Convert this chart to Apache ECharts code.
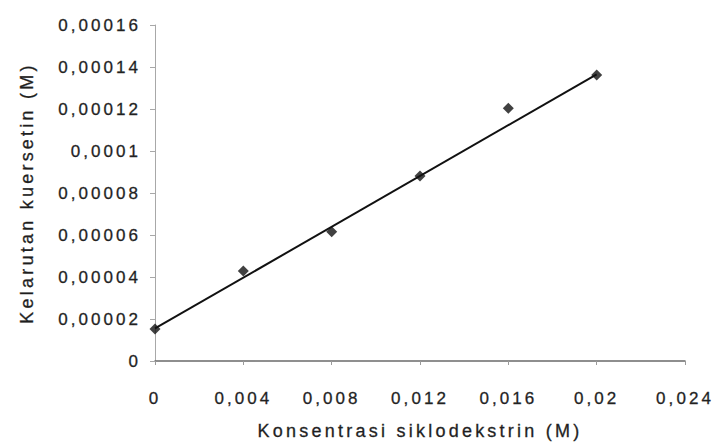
<!DOCTYPE html>
<html>
<head>
<meta charset="utf-8">
<style>
  html, body { margin: 0; padding: 0; background: #fff; }
  #chart { width: 716px; height: 447px; }
  #chart svg text { letter-spacing: 0.18em !important; stroke: #2a2a2a; stroke-width: 0.3px; }
</style>
<script src="https://cdn.jsdelivr.net/npm/echarts@6/dist/echarts.min.js"></script>
</head>
<body>
<div id="chart"></div>
<script>
// Data
var concentrations = [0, 0.004, 0.008, 0.012, 0.016, 0.02];
var solubility = [0.0000152, 0.0000429, 0.0000616, 0.0000881, 0.0001203, 0.0001362];
// Trend line end points
var trendX = [0, 0.02];
var trendY = [0.0000155, 0.0001365];
// Tick labels as printed (Indonesian decimal comma)
var xTickLabels = ['0', '0,004', '0,008', '0,012', '0,016', '0,02', '0,024'];
var yTickLabels = ['0', '0,00002', '0,00004', '0,00006', '0,00008', '0,0001', '0,00012', '0,00014', '0,00016'];
var xTitle = 'Konsentrasi siklodekstrin (M)';
var yTitle = 'Kelarutan kuersetin (M)';

var pointData = concentrations.map(function (c, i) { return [c, solubility[i]]; });
var trendData = trendX.map(function (c, i) { return [c, trendY[i]]; });

var chart = echarts.init(document.getElementById('chart'), null, { renderer: 'svg' });
var textColor = '#1e1e1e';
var fontFamily = '"Liberation Sans", Arial, sans-serif';

chart.setOption({
  animation: false,
  backgroundColor: '#ffffff',
  grid: { left: 155, right: 31, top: 25, bottom: 86, containLabel: false, outerBoundsMode: 'none' },
  xAxis: {
    type: 'value',
    min: 0, max: 0.024, interval: 0.004,
    name: xTitle,
    nameLocation: 'middle',
    nameGap: 61,
    nameTextStyle: { color: textColor, fontSize: 18, fontFamily: fontFamily },
    axisLine: { show: true, lineStyle: { color: '#6a6a6a', width: 1.5 } },
    axisTick: { show: true, length: 4, lineStyle: { color: '#9a9a9a' } },
    splitLine: { show: false },
    axisLabel: {
      margin: 29,
      color: textColor, fontSize: 17, fontFamily: fontFamily,
      formatter: function (v) { return xTickLabels[Math.round(v / 0.004)]; }
    }
  },
  yAxis: {
    type: 'value',
    min: 0, max: 0.00016, interval: 0.00002,
    name: yTitle,
    nameLocation: 'middle',
    nameGap: 119,
    nameTextStyle: { color: textColor, fontSize: 18, fontFamily: fontFamily },
    axisLine: { show: true, lineStyle: { color: '#a8a8a8', width: 1 } },
    axisTick: { show: true, length: 5, lineStyle: { color: '#a8a8a8' } },
    splitLine: { show: false },
    axisLabel: {
      margin: 14,
      color: textColor, fontSize: 17, fontFamily: fontFamily,
      formatter: function (v) { return yTickLabels[Math.round(v / 0.00002)]; }
    }
  },
  series: [
    {
      type: 'line',
      data: trendData,
      showSymbol: false,
      symbol: 'none',
      lineStyle: { color: '#111', width: 2 },
      z: 2
    },
    {
      type: 'scatter',
      data: pointData,
      symbol: 'diamond',
      symbolSize: 11,
      itemStyle: { color: '#111' },
      z: 3
    }
  ]
});
</script>
</body>
</html>
